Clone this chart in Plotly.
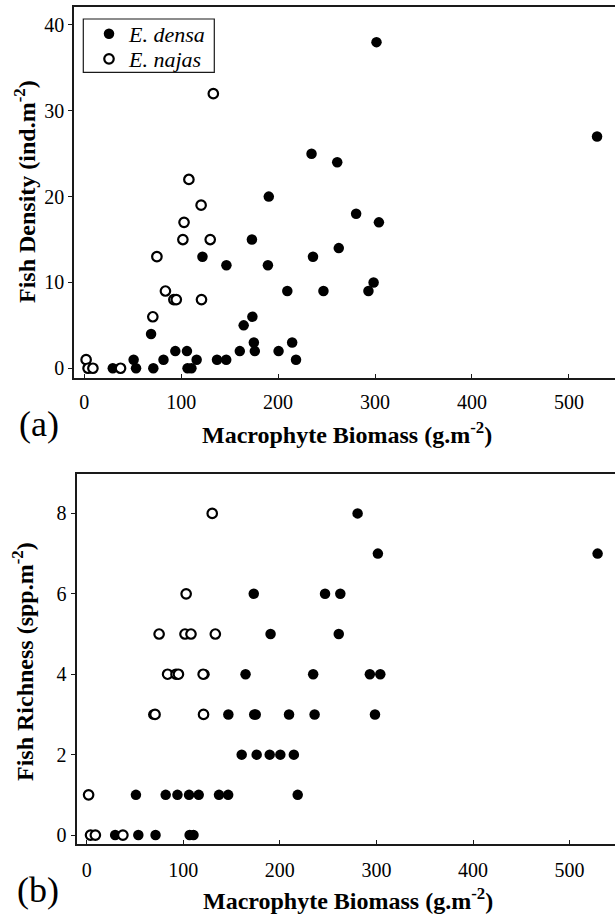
import plotly.graph_objects as go

W, H = 615, 914

# ---- data ----
densa_x = [29.5, 51, 53.5, 69, 71.3, 81.8, 94, 106, 106.6, 110.6, 116, 122, 137, 146.5, 146.7,
           160.5, 164.5, 173, 173.5, 175, 176, 189.5, 190.4, 200.5, 209.5, 214.5, 218.5,
           234.5, 236, 246.8, 261, 262.6, 280.5, 293.2, 298.5, 301.5, 304, 529]
densa_density = [0, 1, 0, 4, 0, 1, 2, 2, 0, 0, 1, 13, 1, 1, 12,
                 2, 5, 15, 6, 3, 2, 12, 20, 2, 9, 3, 1,
                 25, 13, 9, 24, 14, 18, 9, 10, 38, 17, 27]
densa_richness = [0, 1, 0, 3, 0, 1, 1, 1, 0, 0, 1, 4, 1, 1, 3,
                  2, 4, 6, 3, 3, 2, 2, 5, 2, 3, 2, 1,
                  4, 3, 6, 5, 6, 8, 4, 3, 7, 4, 7]

najas_x = [2, 4, 9, 37.5, 70.8, 75, 83.8, 92.5, 95, 101.8, 103, 108, 120.6, 121, 130, 133.2]
najas_density = [1, 0, 0, 0, 6, 13, 9, 8, 8, 15, 17, 22, 19, 8, 15, 32]
najas_richness = [1, 0, 0, 0, 3, 5, 4, 4, 4, 5, 6, 5, 4, 3, 8, 5]

x_ticks = [0, 100, 200, 300, 400, 500]
density_ticks = [0, 10, 20, 30, 40]
richness_ticks = [0, 2, 4, 6, 8]

x_title = "Macrophyte Biomass (g.m<sup>-2</sup>)"
density_title = "Fish Density (ind.m<sup>-2</sup>)"
richness_title = "Fish Richness (spp.m<sup>-2</sup>)"

SERIF = "Liberation Serif"

filled = dict(symbol="circle", size=10.5, color="black", line=dict(width=0))
hollow = dict(symbol="circle", size=9.5, color="white", line=dict(width=2.2, color="black"))

fig = go.Figure()
fig.add_trace(go.Scatter(x=densa_x, y=densa_density, mode="markers", marker=filled,
                         name="<i>E. densa</i>", xaxis="x", yaxis="y", legend="legend"))
fig.add_trace(go.Scatter(x=najas_x, y=najas_density, mode="markers", marker=hollow,
                         name="<i>E. najas</i>", xaxis="x", yaxis="y", legend="legend2"))
fig.add_trace(go.Scatter(x=densa_x, y=densa_richness, mode="markers", marker=filled,
                         showlegend=False, xaxis="x2", yaxis="y2"))
fig.add_trace(go.Scatter(x=najas_x, y=najas_richness, mode="markers", marker=hollow,
                         showlegend=False, xaxis="x2", yaxis="y2"))

def px(x):
    return x / W

def py(y):
    return 1 - y / H

tickfont = dict(family=SERIF, size=20, color="black")
line = dict(showline=True, linecolor="#1a1a1a", linewidth=1.5, showgrid=False,
            zeroline=False, automargin=False, tickfont=tickfont,
            tickcolor="#1a1a1a", tickwidth=1)

legend_common = dict(xanchor="left", yanchor="middle", bgcolor="rgba(0,0,0,0)",
                     borderwidth=0, font=dict(family=SERIF, size=22, color="black"),
                     indentation=6, itemsizing="trace")

fig.update_layout(
    template="none",
    width=W, height=H, autosize=False,
    margin=dict(l=0, r=0, t=0, b=0, pad=0),
    paper_bgcolor="white", plot_bgcolor="white",
    font=dict(family=SERIF, color="black"),
    xaxis=dict(domain=[px(74), 1], range=[-10.5, 547.5], anchor="y", tickvals=x_ticks,
               ticks="inside", ticklen=4, mirror=True, ticklabelstandoff=6, **line),
    yaxis=dict(domain=[py(377.7), py(7.3)], range=[-1.1, 42.06], anchor="x",
               tickvals=density_ticks, ticks="outside", ticklen=4, **line),
    xaxis2=dict(domain=[px(77.3), 1], range=[-9.7, 547], anchor="y2", tickvals=x_ticks,
                ticks="inside", ticklen=4, mirror=True, ticklabelstandoff=8, **line),
    yaxis2=dict(domain=[py(843.5), py(474)], range=[-0.21, 8.98], anchor="x2",
                tickvals=richness_ticks, ticks="outside", ticklen=5, **line),
    legend=dict(x=px(83), y=py(34), **legend_common),
    legend2=dict(x=px(83), y=py(59), **legend_common),
    showlegend=True,
    shapes=[dict(type="rect", xref="paper", yref="paper",
                 x0=px(83.3), x1=px(214.3), y0=py(72.3), y1=py(19),
                 line=dict(color="#1a1a1a", width=1.2), fillcolor="white", layer="above")],
)

def label(text, x, y, size, angle=0):
    return dict(text=text, x=px(x), y=py(y), xref="paper", yref="paper",
                xanchor="center", yanchor="middle", showarrow=False, textangle=angle,
                font=dict(family=SERIF, size=size, color="black"))

ann = [
    label("(a)", 39, 424, 36),
    label("(b)", 38, 890, 36),
    label("<b>" + x_title + "</b>", 347, 433, 24),
    label("<b>" + x_title + "</b>", 348, 899, 24),
    label("<b>" + density_title + "</b>", 25, 192, 24, -90),
    label("<b>" + richness_title + "</b>", 23, 662, 24, -90),
]
fig.update_layout(annotations=ann)

fig.write_html("out.html")
